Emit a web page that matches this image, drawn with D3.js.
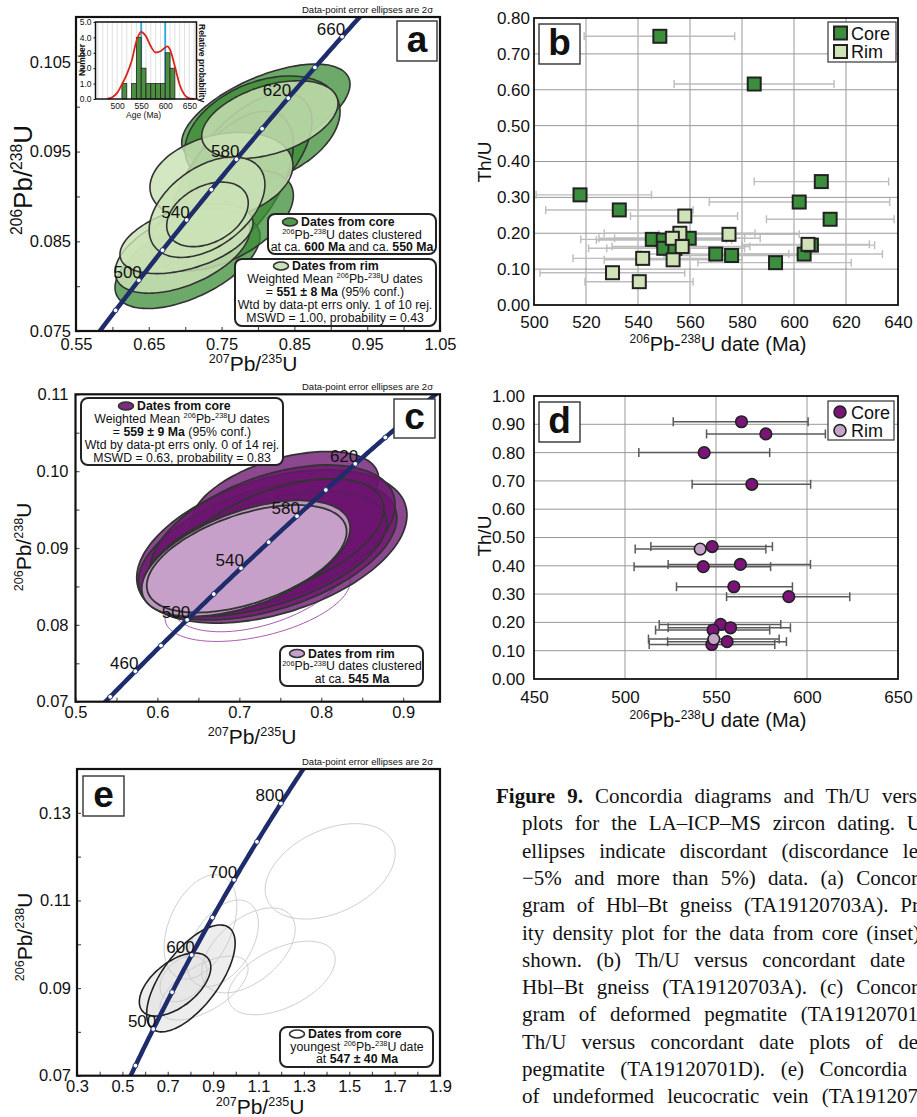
<!DOCTYPE html>
<html><head><meta charset="utf-8">
<script src="https://cdn.jsdelivr.net/npm/d3@7"></script>
<style>body{margin:0;background:#fff}svg{display:block}</style>
</head><body>
<svg id="fig" width="917" height="1117"></svg>
<script>
// ================= DATA =================
// U decay constants (per Ma) used for the concordia curve
const LAMBDA_238 = 1.55125e-4;
const LAMBDA_235 = 9.8485e-4;

// ---- Panel a : concordia, Hbl-Bt gneiss ----
const aXTicks = [0.55, 0.65, 0.75, 0.85, 0.95, 1.05];
const aXMinor = [0.60, 0.70, 0.80, 0.90, 1.00];
const aYTicks = [0.075, 0.085, 0.095, 0.105];
const aYMinor = [0.080, 0.090, 0.100];
const aAgeMarks = [480, 500, 520, 540, 560, 580, 600, 620, 640, 660];
const aAgeLabels = [500, 540, 580, 620, 660];
// ellipses: [207Pb/235U, half-range x, 206Pb/238U, half-range y, rho]
const aCoreEllipses = [
  [0.8108, 0.1156, 0.09925, 0.00550, 0.59],
  [0.8062, 0.1065, 0.09733, 0.00610, 0.35],
  [0.7890, 0.0850, 0.09450, 0.00700, 0.55],
  [0.7637, 0.0848, 0.09120, 0.00830, 0.55],
  [0.7032, 0.0996, 0.08270, 0.00520, 0.55],
  [0.7504, 0.0982, 0.08730, 0.00560, 0.50]
];
const aRimEllipses = [
  [0.7498, 0.0982, 0.09224, 0.00490, 0.25],
  [0.8163, 0.0936, 0.09856, 0.00433, 0.42],
  [0.6963, 0.0927, 0.08394, 0.00473, 0.50],
  [0.7018, 0.0914, 0.08530, 0.00390, 0.45],
  [0.7300, 0.0795, 0.08880, 0.00560, 0.45],
  [0.7306, 0.0560, 0.08800, 0.00360, 0.35]
];
// inset histogram (core dates)
const insetBinStart = [510, 520, 530, 540, 550, 560, 570, 580, 590, 600, 610];
const insetCounts   = [1,   0,   1,   4,   2,   1,   1,   1,   1,   3,   2];
const insetPdfAge = [480, 490, 500, 510, 520, 530, 540, 550, 560, 570, 580, 590, 600, 605, 610, 620, 630, 640, 650, 660];
const insetPdfVal = [0.02, 0.12, 0.4, 0.95, 1.6, 2.45, 3.75, 4.35, 4.07, 3.42, 3.02, 3.1, 3.35, 3.42, 3.2, 2.12, 0.93, 0.28, 0.04, 0];
const insetPeaks = [550, 600];
const insetXTicks = [500, 550, 600, 650];
const insetYTicks = [0, 1, 2, 3, 4, 5];

// ---- Panel b : Th/U vs date ----
const bXTicks = [500, 520, 540, 560, 580, 600, 620, 640];
const bYTicks = [0, 0.1, 0.2, 0.3, 0.4, 0.5, 0.6, 0.7, 0.8];
const bCoreDate = [548.4, 584.7, 517.7, 532.8, 610.5, 602.0, 613.9, 545.5, 549.7, 549.9, 554.2, 559.7, 569.9, 576.0, 592.9, 603.9, 606.7];
const bCoreThU  = [0.749, 0.616, 0.307, 0.265, 0.344, 0.287, 0.239, 0.183, 0.181, 0.158, 0.158, 0.186, 0.142, 0.138, 0.118, 0.142, 0.167];
const bCoreLo   = [519.3, 553.9, 500.8, 504.5, 584.7, 567.4, 589.4, 518, 524, 521, 528, 531, 541, 550, 563, 576, 580];
const bCoreHi   = [577.2, 615.4, 545.2, 561.2, 636.4, 636.8, 638.5, 574, 576, 580, 581, 587, 598, 602, 622, 634, 631];
const bRimDate = [558.0, 575.0, 556.1, 553.2, 557.0, 553.5, 541.8, 530.2, 540.5, 605.4];
const bRimThU  = [0.248, 0.197, 0.200, 0.186, 0.163, 0.126, 0.130, 0.090, 0.065, 0.169];
const bRimLo   = [537.1, 548, 527, 525, 530, 527, 515, 502.3, 519.6, 580];
const bRimHi   = [578.3, 602, 585, 581, 583, 580, 568, 558, 561.2, 629];

// ---- Panel c : concordia, deformed pegmatite ----
const cXTicks = [0.5, 0.6, 0.7, 0.8, 0.9];
const cXMinor = [0.55, 0.65, 0.75, 0.85];
const cYTicks = [0.07, 0.08, 0.09, 0.10, 0.11];
const cYMinor = [0.075, 0.085, 0.095, 0.105];
const cAgeMarks = [440, 460, 480, 500, 520, 540, 560, 580, 600, 620, 640];
const cAgeLabels = [460, 500, 540, 580, 620];
const cCoreEllipses = [
  [0.7559, 0.1140, 0.09629, 0.00626, 0.45],
  [0.7397, 0.1649, 0.09020, 0.00997, 0.41],
  [0.7345, 0.1578, 0.08980, 0.00915, 0.45],
  [0.7406, 0.1496, 0.09140, 0.00940, 0.45],
  [0.7315, 0.1487, 0.08920, 0.00810, 0.50],
  [0.7485, 0.1280, 0.09120, 0.00780, 0.50]
];
const cRimEllipses = [
  [0.7081, 0.1272, 0.08864, 0.00755, 0.52],
  [0.7090, 0.1220, 0.08860, 0.00700, 0.50]
];
const cDiscEllipses = [
  [0.7223, 0.1130, 0.08326, 0.00542, 0.44],
  [0.7240, 0.1050, 0.08500, 0.00590, 0.45]
];

// ---- Panel d : Th/U vs date ----
const dXTicks = [450, 500, 550, 600, 650];
const dYTicks = [0, 0.1, 0.2, 0.3, 0.4, 0.5, 0.6, 0.7, 0.8, 0.9, 1.0];
const dCoreDate = [564.0, 577.4, 543.5, 569.7, 547.9, 543.0, 563.4, 559.8, 590.0, 552.5, 558.0, 548.4, 547.7, 556.1];
const dCoreThU  = [0.909, 0.866, 0.800, 0.688, 0.468, 0.397, 0.405, 0.326, 0.291, 0.193, 0.181, 0.173, 0.122, 0.132];
const dCoreLo   = [526.5, 544.8, 507.6, 536.9, 514.2, 505.0, 523.7, 528.3, 555.8, 518.8, 523.7, 516.8, 513.3, 523.4];
const dCoreHi   = [600.6, 610.1, 579.5, 602.0, 581.0, 580.0, 601.9, 592.0, 623.5, 585.6, 590.9, 579.5, 582.3, 588.7];
const dRimDate = [541.3, 548.8];
const dRimThU  = [0.459, 0.141];
const dRimLo   = [505.6, 512.9];
const dRimHi   = [577.4, 584.7];

// ---- Panel e : concordia, undeformed leucocratic vein ----
const eXTicks = [0.3, 0.5, 0.7, 0.9, 1.1, 1.3, 1.5, 1.7, 1.9];
const eXMinor = [0.4, 0.6, 0.8, 1.0, 1.2, 1.4, 1.6, 1.8];
const eYTicks = [0.07, 0.09, 0.11, 0.13];
const eYMinor = [0.08, 0.10, 0.12];
const eAgeMarks = [450, 500, 550, 600, 650, 700, 750, 800];
const eAgeLabels = [500, 600, 700, 800];
const eDiscEllipses = [
  [1.4160, 0.2867, 0.11664, 0.01089, 0.38],
  [0.8441, 0.1603, 0.10395, 0.01192, 0.40],
  [0.9418, 0.1580, 0.10020, 0.00990, 0.45],
  [1.0558, 0.2058, 0.09860, 0.00970, 0.50],
  [1.2020, 0.2360, 0.09230, 0.00840, 0.50],
  [0.8600, 0.1940, 0.09000, 0.00730, 0.60],
  [0.7695, 0.1035, 0.09210, 0.00520, 0.35]
];
const eConcEllipses = [
  [0.8020, 0.1950, 0.09220, 0.01220, 0.66],
  [0.7323, 0.1575, 0.09080, 0.00720, 0.55]
];

// ---- texts ----
const ellipseNote = "Data-point error ellipses are 2\u03c3";
const ratio206 = [["206","s"],"Pb/",["238","s"],"U"];
const ratio207 = [["207","s"],"Pb/",["235","s"],"U"];
const dateTitle = [["206","s"],"Pb-",["238","s"],"U date (Ma)"];
const aLegCore = [[["Dates from core","b"]], [["206","s"],"Pb-",["238","s"],"U dates clustered"], ["at ca. ",["600 Ma","b"]," and ca. ",["550 Ma","b"]]];
const aLegRim = [[["Dates from rim","b"]], ["Weighted Mean ",["206","s"],"Pb-",["238","s"],"U dates"], ["= ",["551 \u00b1 8 Ma","b"]," (95% conf.)"], ["Wtd by data-pt errs only. 1 of 10 rej."], ["MSWD = 1.00, probability = 0.43"]];
const cLegCore = [[["Dates from core","b"]], ["Weighted Mean ",["206","s"],"Pb-",["238","s"],"U dates"], ["= ",["559 \u00b1 9 Ma","b"]," (95% conf.)"], ["Wtd by data-pt errs only. 0 of 14 rej."], ["MSWD = 0.63, probability = 0.83"]];
const cLegRim = [[["Dates from rim","b"]], [["206","s"],"Pb-",["238","s"],"U dates clustered"], ["at ca. ",["545 Ma","b"]]];
const eLegCore = [[["Dates from core","b"]], ["youngest ",["206","s"],"Pb-",["238","s"],"U date"], ["at ",["547 \u00b1 40 Ma","b"]]];
const captionLines = [
  {bold:"Figure 9.", text:" Concordia diagrams and Th/U versus", vis:"Concordia diagrams and Th/U vers", end:917},
  {text:"plots for the LA\u2013ICP\u2013MS zircon dating. Unfilled", vis:"plots for the LA\u2013ICP\u2013MS zircon dating. U", end:922},
  {text:"ellipses indicate discordant (discordance less", vis:"ellipses indicate discordant (discordance le", end:918},
  {text:"\u22125% and more than 5%) data. (a) Concordia dia-", vis:"\u22125% and more than 5%) data. (a) Concor", end:918},
  {text:"gram of Hbl\u2013Bt gneiss (TA19120703A). Probabil-", vis:"gram of Hbl\u2013Bt gneiss (TA19120703A). Pr", end:919},
  {text:"ity density plot for the data from core (inset) is", vis:"ity density plot for the data from core (inset", end:913},
  {text:"shown. (b) Th/U versus concordant date plots", vis:"shown. (b) Th/U versus concordant date", end:905},
  {text:"Hbl\u2013Bt gneiss (TA19120703A). (c) Concordia dia-", vis:"Hbl\u2013Bt gneiss (TA19120703A). (c) Concor", end:918},
  {text:"gram of deformed pegmatite (TA19120701D). (d)", vis:"gram of deformed pegmatite (TA19120701", end:918},
  {text:"Th/U versus concordant date plots of deformed", vis:"Th/U versus concordant date plots of de", end:918},
  {text:"pegmatite (TA19120701D). (e) Concordia diagram", vis:"pegmatite (TA19120701D). (e) Concordia", end:907},
  {text:"of undeformed leucocratic vein (TA19120702A).", vis:"of undeformed leucocratic vein (TA191207", end:918}
];

// ================= DRAWING =================
const FONT = '"Liberation Sans", Arial, Helvetica, sans-serif';
const SERIF = '"Liberation Serif", "Times New Roman", serif';
const NAVY = "#1e2c6b";
const LEG_FS = 12.3;
const svg = d3.select("#fig");
svg.append("rect").attr("width", 917).attr("height", 1117).attr("fill", "#fff");

function rich(g, x, y, segs, fs, anchor, rotate, weight) {
  const t = g.append("text").attr("x", x).attr("y", y).attr("font-family", FONT)
    .attr("font-size", fs).attr("text-anchor", anchor || "start").attr("fill", "#111");
  if (weight) t.attr("font-weight", weight);
  if (rotate) t.attr("transform", `rotate(${rotate},${x},${y})`);
  let sup = false;
  segs.forEach(s => {
    const txt = typeof s === "string" ? s : s[0];
    const st = typeof s === "string" ? "" : s[1];
    const isSup = st.indexOf("s") >= 0;
    const ts = t.append("tspan").text(txt);
    if (isSup) ts.attr("font-size", fs * 0.6);
    if (st.indexOf("b") >= 0) ts.attr("font-weight", "bold");
    if (isSup && !sup) ts.attr("dy", -fs * 0.38);
    if (!isSup && sup) ts.attr("dy", fs * 0.38);
    sup = isSup;
  });
  return t;
}

function ellipsePath(x, y, e) {
  const pts = d3.range(0, 360, 4).map(deg => {
    const t = deg * Math.PI / 180;
    const r = e[4];
    return [x(e[0] + e[1] * Math.cos(t)), y(e[2] + e[3] * (r * Math.cos(t) + Math.sqrt(1 - r * r) * Math.sin(t)))];
  });
  return d3.line().curve(d3.curveCardinalClosed)(pts);
}

function labelBox(x, y, w, h, letter) {
  svg.append("rect").attr("x", x).attr("y", y).attr("width", w).attr("height", h)
    .attr("fill", "#fff").attr("stroke", "#333").attr("stroke-width", 1.4);
  svg.append("text").attr("x", x + w / 2).attr("y", y + h - 9).attr("text-anchor", "middle")
    .attr("font-family", FONT).attr("font-weight", "bold").attr("font-size", 37).attr("fill", "#111").text(letter);
}

function legendBox(x, y, w, h, lines, cx, y0, lh, icon) {
  const g = svg.append("g");
  g.append("rect").attr("x", x).attr("y", y).attr("width", w).attr("height", h).attr("rx", 7)
    .attr("fill", "#fff").attr("stroke", "#222").attr("stroke-width", 2);
  lines.forEach((ln, i) => {
    if (i === 0) {
      g.append("ellipse").attr("cx", icon.x).attr("cy", y0 + i * lh - 4).attr("rx", 7.5).attr("ry", 4)
        .attr("fill", icon.fill).attr("stroke", "#333").attr("stroke-width", 1.6);
      rich(g, icon.x + 11, y0, ln, LEG_FS, "start");
    } else {
      rich(g, cx, y0 + i * lh, ln, LEG_FS, "middle");
    }
  });
}

function concordiaPanel(o) {
  const x = d3.scaleLinear().domain(o.xDom).range([o.left, o.right]);
  const y = d3.scaleLinear().domain(o.yDom).range([o.bottom, o.top]);
  const id = "clip" + o.id;
  svg.append("clipPath").attr("id", id).append("rect")
    .attr("x", o.left).attr("y", o.top).attr("width", o.right - o.left).attr("height", o.bottom - o.top);
  const g = svg.append("g");
  const pg = g.append("g").attr("clip-path", `url(#${id})`);
  o.drawEllipses(pg, x, y);
  // concordia curve (model curve from decay constants)
  const ages = d3.range(300, 1000, 2);
  pg.append("path").datum(ages)
    .attr("d", d3.line().x(t => x(Math.exp(LAMBDA_235 * t) - 1)).y(t => y(Math.exp(LAMBDA_238 * t) - 1)))
    .attr("fill", "none").attr("stroke", NAVY).attr("stroke-width", 4.5);
  pg.selectAll("circle.mk").data(o.marks).enter().append("circle")
    .attr("cx", t => x(Math.exp(LAMBDA_235 * t) - 1)).attr("cy", t => y(Math.exp(LAMBDA_238 * t) - 1))
    .attr("r", 2.4).attr("fill", "#fff").attr("stroke", NAVY).attr("stroke-width", 0.9);
  pg.selectAll("text.ml").data(o.labels).enter().append("text")
    .attr("x", t => x(Math.exp(LAMBDA_235 * t) - 1) + 3).attr("y", t => y(Math.exp(LAMBDA_238 * t) - 1) - 2)
    .attr("text-anchor", "end").attr("font-family", FONT).attr("font-size", 17).attr("fill", "#111").text(t => t);
  // axes
  const xa = g.append("g").attr("transform", `translate(0,${o.bottom})`)
    .call(d3.axisBottom(x).tickValues(o.xTicks).tickFormat(o.xFmt).tickSize(-4).tickPadding(o.xPad));
  const xm = g.append("g").attr("transform", `translate(0,${o.bottom})`)
    .call(d3.axisBottom(x).tickValues(o.xMinor).tickFormat("").tickSize(-4));
  const ya = g.append("g").attr("transform", `translate(${o.left},0)`)
    .call(d3.axisLeft(y).tickValues(o.yTicks).tickFormat(o.yFmt).tickSize(-4).tickPadding(o.yPad));
  const ym = g.append("g").attr("transform", `translate(${o.left},0)`)
    .call(d3.axisLeft(y).tickValues(o.yMinor).tickFormat("").tickSize(-4));
  [xa, xm, ya, ym].forEach(a => {
    a.attr("font-family", FONT).attr("font-size", 16.5);
    a.select(".domain").remove();
    a.selectAll("line").attr("stroke", "#555").attr("stroke-width", 1.2);
    a.selectAll("text").attr("fill", "#111");
  });
  g.append("rect").attr("x", o.left).attr("y", o.top).attr("width", o.right - o.left).attr("height", o.bottom - o.top)
    .attr("fill", "none").attr("stroke", "#111").attr("stroke-width", 2.2);
  g.append("text").attr("x", 433).attr("y", o.top - 4).attr("text-anchor", "end")
    .attr("font-family", FONT).attr("font-size", 9.5).attr("fill", "#111").text(ellipseNote);
  rich(g, o.xt[0], o.xt[1], ratio207, 21, "middle");
  rich(g, o.yt[0], o.yt[1], ratio206, o.ytFs, "middle", -90);
  return {x, y, g};
}

const fmt2 = d3.format(".2f");
const fmt3 = d3.format(".3f");

// ---------- Panel a ----------
concordiaPanel({
  id: "a", left: 76, right: 440, top: 17, bottom: 331, xDom: [0.55, 1.05], yDom: [0.075, 0.11],
  xTicks: aXTicks, xMinor: aXMinor, yTicks: aYTicks, yMinor: aYMinor, xFmt: fmt2, yFmt: fmt3, xPad: 7, yPad: 5,
  marks: aAgeMarks, labels: aAgeLabels, xt: [253, 371], yt: [32, 180], ytFs: 26,
  drawEllipses(g, x, y) {
    g.selectAll("path.core").data(aCoreEllipses).enter().append("path").attr("d", e => ellipsePath(x, y, e))
      .attr("fill", "#3c8c36").attr("fill-opacity", 0.75).attr("stroke", "#333").attr("stroke-width", 1.6);
    g.selectAll("path.rim").data(aRimEllipses).enter().append("path").attr("d", e => ellipsePath(x, y, e))
      .attr("fill", "#cbe2b6").attr("fill-opacity", 0.82).attr("stroke", "#333").attr("stroke-width", 1.6);
  }
});
labelBox(397, 21, 40, 40, "a");
legendBox(268, 214, 168, 40, aLegCore, 352, 226, 12.7, {x: 290, fill: "#4f9a48"});
legendBox(235, 259, 201, 67, aLegRim, 335, 270, 12.9, {x: 281, fill: "#cbe2b6"});

// inset histogram
(function () {
  const L = 95.5, R = 196.5, T = 22, B = 99;
  const x = d3.scaleLinear().domain([455, 665]).range([L, R]);
  const y = d3.scaleLinear().domain([0, 5]).range([B, T]);
  const g = svg.append("g");
  g.append("rect").attr("x", L).attr("y", T).attr("width", R - L).attr("height", B - T).attr("fill", "#fff");
  g.selectAll("line.gr").data(d3.range(460, 661, 10)).enter().append("line")
    .attr("x1", d => x(d)).attr("x2", d => x(d)).attr("y1", T).attr("y2", B).attr("stroke", "#d4d4d4").attr("stroke-width", 0.7);
  g.selectAll("line.pk").data(insetPeaks).enter().append("line")
    .attr("x1", d => x(d)).attr("x2", d => x(d)).attr("y1", T).attr("y2", B).attr("stroke", "#2aa7e0").attr("stroke-width", 1.8);
  g.selectAll("rect.bar").data(insetBinStart.map((b, i) => [b, insetCounts[i]]).filter(d => d[1] > 0)).enter().append("rect")
    .attr("x", d => x(d[0])).attr("width", d => x(d[0] + 10) - x(d[0])).attr("y", d => y(d[1])).attr("height", d => B - y(d[1]))
    .attr("fill", "#4c8f41").attr("stroke", "#222").attr("stroke-width", 0.8);
  g.append("path").datum(insetPdfAge.map((a, i) => [a, insetPdfVal[i]]))
    .attr("d", d3.line().curve(d3.curveMonotoneX).x(d => x(d[0])).y(d => y(d[1])))
    .attr("fill", "none").attr("stroke", "#d8261c").attr("stroke-width", 1.8);
  g.append("rect").attr("x", L).attr("y", T).attr("width", R - L).attr("height", B - T).attr("fill", "none").attr("stroke", "#111").attr("stroke-width", 1.5);
  const xa = g.append("g").attr("transform", `translate(0,${B})`).call(d3.axisBottom(x).tickValues(insetXTicks).tickSize(0).tickPadding(4));
  const ya = g.append("g").attr("transform", `translate(${L},0)`).call(d3.axisLeft(y).tickValues(insetYTicks).tickSize(2).tickPadding(2));
  [xa, ya].forEach(a => { a.attr("font-family", FONT).attr("font-size", 8.5); a.select(".domain").remove(); a.selectAll("text").attr("fill", "#111"); a.selectAll("line").attr("stroke", "#111"); });
  g.append("text").attr("x", x(555)).attr("y", 118).attr("text-anchor", "middle").attr("font-family", FONT).attr("font-size", 8.5).attr("fill", "#111").text("Age (Ma)");
  g.append("text").attr("transform", "translate(85,60) rotate(-90)").attr("text-anchor", "middle").attr("font-family", FONT).attr("font-size", 8.5).attr("font-weight", "bold").attr("fill", "#111").text("Number");
  g.append("text").attr("transform", "translate(199,24) rotate(90)").attr("text-anchor", "start").attr("font-family", FONT).attr("font-size", 8.5).attr("font-weight", "bold").attr("fill", "#111").text("Relative probability");
})();

// ---------- Panel c ----------
concordiaPanel({
  id: "c", left: 75.5, right: 440, top: 394.3, bottom: 701.7, xDom: [0.5, 0.945], yDom: [0.07, 0.11],
  xTicks: cXTicks, xMinor: cXMinor, yTicks: cYTicks, yMinor: cYMinor, xFmt: d3.format(".1f"), yFmt: fmt2, xPad: 5, yPad: 7,
  marks: cAgeMarks, labels: cAgeLabels, xt: [252, 744], yt: [31, 547], ytFs: 21,
  drawEllipses(g, x, y) {
    g.selectAll("path.disc").data(cDiscEllipses).enter().append("path").attr("d", e => ellipsePath(x, y, e))
      .attr("fill", "none").attr("stroke", "#a24aa6").attr("stroke-width", 0.9);
    g.selectAll("path.core").data(cCoreEllipses).enter().append("path").attr("d", e => ellipsePath(x, y, e))
      .attr("fill", "#6c1470").attr("fill-opacity", 0.78).attr("stroke", "#333").attr("stroke-width", 1.8);
    g.selectAll("path.rim").data(cRimEllipses).enter().append("path").attr("d", e => ellipsePath(x, y, e))
      .attr("fill", "#c7a1ca").attr("fill-opacity", 0.92).attr("stroke", "#333").attr("stroke-width", 1.8);
  }
});
labelBox(394, 399, 41, 39, "c");
legendBox(81, 398, 202, 67, cLegCore, 182, 410, 12.9, {x: 126, fill: "#7e2a82"});
legendBox(280, 646, 143, 40, cLegRim, 352, 657.5, 12.9, {x: 297, fill: "#c7a1ca"});

// ---------- Panel e ----------
concordiaPanel({
  id: "e", left: 77, right: 440, top: 769, bottom: 1075.7, xDom: [0.3, 1.9], yDom: [0.07, 0.14],
  xTicks: eXTicks, xMinor: eXMinor, yTicks: eYTicks, yMinor: eYMinor, xFmt: d3.format(".1f"), yFmt: fmt2, xPad: 5, yPad: 6,
  marks: eAgeMarks, labels: eAgeLabels, xt: [260, 1114], yt: [32, 937], ytFs: 21,
  drawEllipses(g, x, y) {
    g.selectAll("path.fill").data(eConcEllipses).enter().append("path").attr("d", e => ellipsePath(x, y, e))
      .attr("fill", "#e4e4e4").attr("fill-opacity", 0.65).attr("stroke", "none");
    g.selectAll("path.disc").data(eDiscEllipses).enter().append("path").attr("d", e => ellipsePath(x, y, e))
      .attr("fill", "none").attr("stroke", "#c8c8c8").attr("stroke-width", 0.9);
    g.selectAll("path.conc").data(eConcEllipses).enter().append("path").attr("d", e => ellipsePath(x, y, e))
      .attr("fill", "none").attr("stroke", "#222").attr("stroke-width", 1.6);
  }
});
labelBox(83, 776, 41, 40, "e");
legendBox(280, 1027, 153, 40, eLegCore, 357, 1038, 12.7, {x: 297, fill: "#fff"});

// ---------- Th/U panels ----------
function thuPanel(o) {
  const x = d3.scaleLinear().domain(o.xDom).range([o.left, o.right]);
  const y = d3.scaleLinear().domain(o.yDom).range([o.bottom, o.top]);
  const g = svg.append("g");
  const grid = g.append("g");
  const drawGrid = (gg) => {
    gg.selectAll("line.v").data(o.xTicks.slice(1, -1)).enter().append("line")
      .attr("x1", d => x(d)).attr("x2", d => x(d)).attr("y1", o.top).attr("y2", o.bottom).attr("stroke", o.gridColor).attr("stroke-width", 1);
    gg.selectAll("line.h").data(o.yTicks.slice(1, -1)).enter().append("line")
      .attr("x1", o.left).attr("x2", o.right).attr("y1", d => y(d)).attr("y2", d => y(d)).attr("stroke", o.gridColor).attr("stroke-width", 1);
  };
  if (!o.gridOverBox) drawGrid(grid);
  o.box();
  if (o.gridOverBox) drawGrid(g.append("g"));
  const xa = g.append("g").attr("transform", `translate(0,${o.bottom})`)
    .call(d3.axisBottom(x).tickValues(o.xTicks).tickFormat(d3.format("d")).tickSize(0).tickPadding(o.xPad));
  const ya = g.append("g").attr("transform", `translate(${o.left},0)`)
    .call(d3.axisLeft(y).tickValues(o.yTicks).tickFormat(fmt2).tickSize(0).tickPadding(o.yPad));
  [xa, ya].forEach(a => { a.attr("font-family", FONT).attr("font-size", 17); a.select(".domain").remove(); a.selectAll("text").attr("fill", "#111"); });
  // error bars
  const eb = g.append("g").attr("stroke", o.errColor).attr("stroke-width", o.errW);
  o.series.forEach(s => {
    s.date.forEach((d, i) => {
      const yy = y(s.thu[i]);
      eb.append("line").attr("x1", x(s.lo[i])).attr("x2", x(s.hi[i])).attr("y1", yy).attr("y2", yy);
      eb.append("line").attr("x1", x(s.lo[i])).attr("x2", x(s.lo[i])).attr("y1", yy - o.cap).attr("y2", yy + o.cap);
      eb.append("line").attr("x1", x(s.hi[i])).attr("x2", x(s.hi[i])).attr("y1", yy - o.cap).attr("y2", yy + o.cap);
    });
  });
  o.series.forEach(s => {
    const pts = s.date.map((d, i) => [d, s.thu[i]]);
    if (o.shape === "square") {
      g.selectAll(null).data(pts).enter().append("rect")
        .attr("x", d => x(d[0]) - 6.5).attr("y", d => y(d[1]) - 6.5).attr("width", 13).attr("height", 13)
        .attr("fill", s.fill).attr("stroke", "#222").attr("stroke-width", 2);
    } else {
      g.selectAll(null).data(pts).enter().append("circle")
        .attr("cx", d => x(d[0])).attr("cy", d => y(d[1])).attr("r", 5.8)
        .attr("fill", s.fill).attr("stroke", "#222").attr("stroke-width", 1.6);
    }
  });
  g.append("rect").attr("x", o.left).attr("y", o.top).attr("width", o.right - o.left).attr("height", o.bottom - o.top)
    .attr("fill", "none").attr("stroke", "#111").attr("stroke-width", 1.8);
  // legend
  const lg = g.append("g");
  lg.append("rect").attr("x", o.leg.x).attr("y", o.leg.y).attr("width", o.leg.w).attr("height", o.leg.h)
    .attr("fill", "#fff").attr("stroke", "#444").attr("stroke-width", 1.3);
  o.series.forEach((s, i) => {
    const cy = o.leg.y + 11 + i * 18.5;
    if (o.shape === "square") lg.append("rect").attr("x", o.leg.x + 6).attr("y", cy - 6.5).attr("width", 13).attr("height", 13)
      .attr("fill", s.fill).attr("stroke", "#222").attr("stroke-width", 2);
    else lg.append("circle").attr("cx", o.leg.x + 12).attr("cy", cy).attr("r", 6).attr("fill", s.fill).attr("stroke", "#222").attr("stroke-width", 1.6);
    lg.append("text").attr("x", o.leg.x + 23).attr("y", cy + 6.5).attr("font-family", FONT).attr("font-size", 18).attr("fill", "#111").text(s.name);
  });
  rich(g, 718, o.xtY, dateTitle, 20, "middle");
  g.append("text").attr("transform", `translate(491,${o.ytY}) rotate(-90)`).attr("text-anchor", "middle")
    .attr("font-family", FONT).attr("font-size", 19).attr("fill", "#111").text("Th/U");
}

thuPanel({
  left: 534, right: 898, top: 18, bottom: 305, xDom: [500, 640], yDom: [0, 0.8],
  xTicks: bXTicks, yTicks: bYTicks, xPad: 11, yPad: 4, gridColor: "#999", gridOverBox: true,
  errColor: "#bdbdbd", errW: 1.4, cap: 4, shape: "square",
  box: () => labelBox(539, 24, 41, 40, "b"),
  series: [
    {name: "Core", fill: "#3b8e3b", date: bCoreDate, thu: bCoreThU, lo: bCoreLo, hi: bCoreHi},
    {name: "Rim", fill: "#cfe3b7", date: bRimDate, thu: bRimThU, lo: bRimLo, hi: bRimHi}
  ],
  leg: {x: 828, y: 22, w: 68, h: 40}, xtY: 351, ytY: 162
});

thuPanel({
  left: 534, right: 898, top: 396, bottom: 679, xDom: [450, 650], yDom: [0, 1.0],
  xTicks: dXTicks, yTicks: dYTicks, xPad: 12, yPad: 9, gridColor: "#999", gridOverBox: false,
  errColor: "#5a5a5a", errW: 1.5, cap: 4.5, shape: "circle",
  box: () => labelBox(539, 402, 41, 40, "d"),
  series: [
    {name: "Core", fill: "#7a1479", date: dCoreDate, thu: dCoreThU, lo: dCoreLo, hi: dCoreHi},
    {name: "Rim", fill: "#c6a3c9", date: dRimDate, thu: dRimThU, lo: dRimLo, hi: dRimHi}
  ],
  leg: {x: 828, y: 401, w: 66, h: 39}, xtY: 727, ytY: 536
});

// ---------- caption ----------
(function () {
  const g = svg.append("g");
  captionLines.forEach((ln, i) => {
    const x0 = i === 0 ? 496 : 522;
    const y0 = 803 + i * 27.3;
    const t = g.append("text").attr("x", x0).attr("y", y0).attr("font-family", SERIF).attr("font-size", 21).attr("fill", "#111");
    if (ln.bold) t.append("tspan").attr("font-weight", "bold").text(ln.bold + " ");
    t.append("tspan").text(ln.vis);
    const w = t.node().getComputedTextLength();
    const visFull = (ln.bold ? ln.bold + " " : "") + ln.vis;
    const nSp = (visFull.match(/ /g) || []).length;
    const ws = nSp ? (ln.end - x0 - w) / nSp : 0;
    t.selectAll("tspan").remove();
    t.style("word-spacing", ws + "px");
    if (ln.bold) t.append("tspan").attr("font-weight", "bold").text(ln.bold);
    t.append("tspan").text(ln.text);
  });
})();
</script>
</body></html>
